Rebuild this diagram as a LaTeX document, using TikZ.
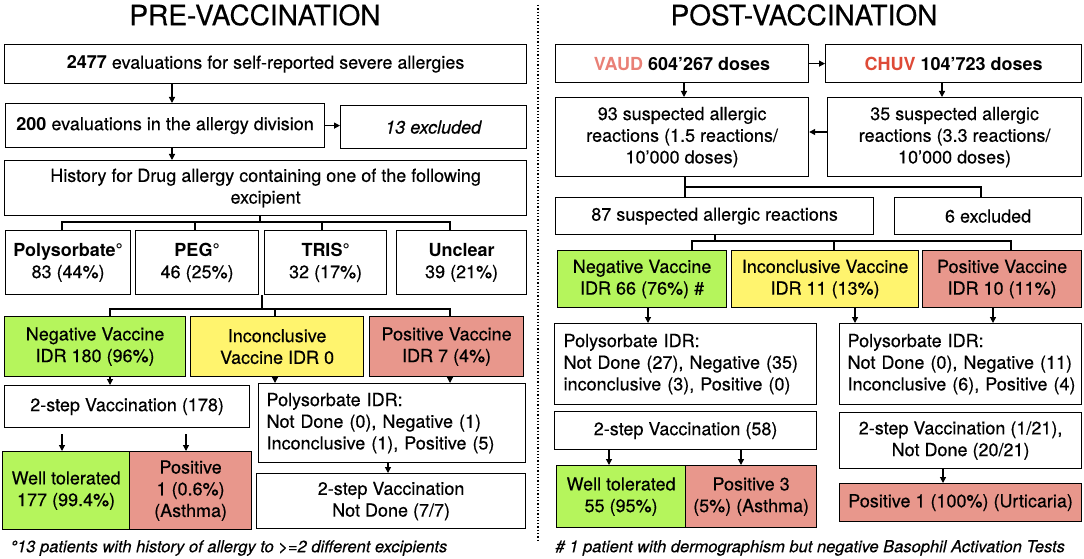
\documentclass[tikz,border=0pt]{standalone}
\usepackage{fontspec}
\setmainfont{TeX Gyre Heros}[UprightFeatures={FakeBold=0.35},ItalicFeatures={FakeBold=0.35}]
\usetikzlibrary{arrows.meta}
\definecolor{cgreen}{RGB}{181,245,92}
\definecolor{cyellow}{RGB}{255,244,110}
\definecolor{cred}{RGB}{232,151,140}
\definecolor{cvaud}{RGB}{233,128,118}
\definecolor{cchuv}{RGB}{222,74,55}
\newcommand\mybx[7][]{\node[bx,anchor=north west,minimum width={(#5-#3)*1pt},minimum height={(#6-#4)*1pt},#1] (#2) at (#3,#4) {#7};}
\begin{document}
\begin{tikzpicture}[x=1pt,y=-1pt,
  bx/.style={draw=black,line width=1.2pt,inner sep=0pt,align=center,font=\fontsize{18}{21.7}\selectfont,text=black},
  lbx/.style={align=left},
  arr/.style={-{Triangle[length=6pt,width=6pt]},line width=1.2pt},
  ln/.style={line width=1.2pt},
  ttl/.style={font=\fontsize{28}{30}\selectfont},
  fn/.style={font=\fontsize{16.5}{19}\selectfont\itshape,anchor=west}]
\useasboundingbox (0,0) rectangle (1084,559);
% titles
\node[ttl] (t1) at (255,15) {PRE-VACCINATION};
\node[ttl] (t2) at (804,15) {POST-VACCINATION};
\draw[line width=1.3pt,dash pattern=on 1.3pt off 2pt] (538,5) -- (538,542);
% ---------- left ----------
\mybx{A}{4}{44}{526}{83}{\textbf{2477} evaluations for self-reported severe allergies}
\mybx{B}{5}{103}{324}{147}{\textbf{200} evaluations in the allergy division}
\mybx{C}{340}{105}{526}{148}{\textit{13 excluded}}
\mybx{D}{4}{160}{526}{215}{History for Drug allergy containing one of the following\\excipient}
\mybx{E1}{5}{230}{130}{294}{\textbf{Polysorbate°}\\83 (44\%)}
\mybx{E2}{135}{230}{258}{294}{\textbf{PEG°}\\46 (25\%)}
\mybx{E3}{264}{230}{386}{294}{\textbf{TRIS°}\\32 (17\%)}
\mybx{E4}{396}{230}{526}{294}{\textbf{Unclear}\\39 (21\%)}
\mybx[fill=cgreen]{F1}{4}{316}{185}{376}{Negative Vaccine\\IDR 180 (96\%)}
\mybx[fill=cyellow]{F2}{190}{316}{363}{376}{Inconclusive\\Vaccine IDR 0}
\mybx[fill=cred]{F3}{369}{316}{523}{376}{Positive Vaccine\\IDR 7 (4\%)}
\mybx{G1}{4}{385}{249}{427}{2-step Vaccination (178)}
\mybx[lbx,text width=251pt]{G2}{258}{383}{525}{462}{\mbox{Polysorbate IDR:}\\\mbox{Not Done (0), Negative (1)}\\\mbox{Inconclusive (1), Positive (5)}}
\mybx[fill=cgreen]{H1}{2}{451}{129}{529}{Well tolerated\\177 (99.4\%)}
\mybx[fill=cred]{H2}{129}{451}{251}{529}{Positive\\1 (0.6\%)\\(Asthma)}
\mybx{G3}{256}{473}{525}{528}{2-step Vaccination\\Not Done (7/7)}
\node[fn] (fn1) at (7,548) {°13 patients with history of allergy to >=2 different excipients};
% left connector positions
\coordinate (xab) at (172,0);
\coordinate (j1) at (260,222);
\coordinate (xa) at (62,0);
\coordinate (xb) at (195,0);
\coordinate (xc) at (322,0);
\coordinate (xd) at (450,0);
\coordinate (j2) at (262,309);
\coordinate (xf1) at (110,0);
\coordinate (xf2) at (275,0);
\coordinate (xf3) at (450,0);
\coordinate (xh1) at (62,0);
\coordinate (xh2) at (186,0);
\coordinate (xg3) at (388,0);
\draw[arr] (A.south -| xab) -- (B.north -| xab);
\draw[arr] (B.east) -- (C.west |- B.east);
\draw[arr] (B.south -| xab) -- (D.north -| xab);
\draw[ln] (D.south -| j1) -- (j1);
\draw[ln] (E1.north -| xa) -- (xa |- j1) -- (xd |- j1) -- (E4.north -| xd);
\draw[ln] (E2.north -| xb) -- (xb |- j1);
\draw[ln] (E3.north -| xc) -- (xc |- j1);
\draw[ln] (E2.south east -| j2) -- (j2);
\draw[ln] (F1.north -| xf1) -- (xf1 |- j2) -- (xf3 |- j2) -- (F3.north -| xf3);
\draw[ln] (F2.north -| xf2) -- (xf2 |- j2);
\draw[arr] (F1.south -| xf1) -- (G1.north -| xf1);
\draw[arr] (F2.south -| xf2) -- (G2.north -| xf2);
\draw[arr] (F3.south -| xf3) -- (G2.north -| xf3);
\draw[arr,shorten <=6pt] (G1.south -| xh1) -- (H1.north -| xh1);
\draw[arr,shorten <=6pt] (G1.south -| xh2) -- (H2.north -| xh2);
\draw[arr] (G2.south -| xg3) -- (G3.north -| xg3);
% ---------- right ----------
\mybx{R1}{555}{44}{808}{82}{\textbf{\textcolor{cvaud}{VAUD} 604’267 doses}}
\mybx{R2}{825}{44}{1081}{82}{\textbf{\textcolor{cchuv}{CHUV} 104’723 doses}}
\mybx{R3}{555}{97}{808}{176}{93 suspected allergic\\reactions (1.5 reactions/\\10’000 doses)}
\mybx{R4}{827}{97}{1081}{176}{35 suspected allergic\\reactions (3.3 reactions/\\10’000 doses)}
\mybx{R5}{555}{197}{873}{234}{87 suspected allergic reactions}
\mybx{R6}{894}{197}{1081}{234}{6 excluded}
\mybx[fill=cgreen]{R7}{557}{250}{726}{307}{Negative Vaccine\\IDR 66 (76\%) \#}
\mybx[fill=cyellow]{R8}{731}{250}{918}{307}{Inconclusive Vaccine\\IDR 11 (13\%)}
\mybx[fill=cred]{R9}{922}{250}{1081}{307}{Positive Vaccine\\IDR 10 (11\%)}
\mybx[lbx,text width=244pt]{R10}{554}{323}{816}{404}{\mbox{Polysorbate IDR:}\\\mbox{Not Done (27), Negative (35)}\\\mbox{inconclusive (3), Positive (0)}}
\mybx[lbx,text width=226pt]{R11}{839}{323}{1081}{404}{\mbox{Polysorbate IDR:}\\\mbox{Not Done (0), Negative (11)}\\\mbox{Inconclusive (6), Positive (4)}}
\mybx{R12}{554}{411}{816}{449}{2-step Vaccination (58)}
\mybx{R13}{839}{412}{1081}{468}{2-step Vaccination (1/21),\\Not Done (20/21)}
\mybx[fill=cgreen]{R14}{556}{465}{685}{527}{Well tolerated\\55 (95\%)}
\mybx[fill=cred]{R15}{685}{465}{816}{527}{Positive 3\\(5\%) (Asthma)}
\mybx[fill=cred]{R16}{839}{483}{1081}{521}{Positive 1 (100\%) (Urticaria)}
\node[fn] (fn2) at (552,548) {\# 1 patient with dermographism but negative Basophil Activation Tests};
% right connector positions
\coordinate (x684) at (684,0);
\coordinate (x942) at (942,0);
\coordinate (y132) at (0,132);
\coordinate (j3) at (685,187);
\coordinate (x981) at (981,0);
\coordinate (j4) at (715,241);
\coordinate (x692) at (692,0);
\coordinate (x834) at (834,0);
\coordinate (x1011) at (1011,0);
\coordinate (x648) at (648,0);
\coordinate (x855) at (855,0);
\coordinate (x993) at (993,0);
\coordinate (x609) at (609,0);
\coordinate (x741) at (741,0);
\coordinate (x943) at (943,0);
\draw[arr] (R1.east) -- (R2.west |- R1.east);
\draw[arr] (R1.south -| x684) -- (R3.north -| x684);
\draw[arr] (R2.south -| x942) -- (R4.north -| x942);
\draw[arr] (R4.west |- y132) -- (R3.east |- y132);
\draw[ln] (R3.south -| j3) -- (R5.north -| j3);
\draw[ln] (j3) -- (x981 |- j3) -- (R6.north -| x981);
\draw[ln] (R5.south -| j4) -- (j4);
\draw[ln] (R7.north -| x692) -- (x692 |- j4) -- (x1011 |- j4) -- (R9.north -| x1011);
\draw[ln] (R8.north -| x834) -- (x834 |- j4);
\draw[arr] (R7.south -| x648) -- (R10.north -| x648);
\draw[arr] (R8.south -| x855) -- (R11.north -| x855);
\draw[arr] (R9.south -| x993) -- (R11.north -| x993);
\draw[arr] (R12.south -| x609) -- (R14.north -| x609);
\draw[arr] (R12.south -| x741) -- (R15.north -| x741);
\draw[arr] (R13.south -| x943) -- (R16.north -| x943);
\end{tikzpicture}
\end{document}
